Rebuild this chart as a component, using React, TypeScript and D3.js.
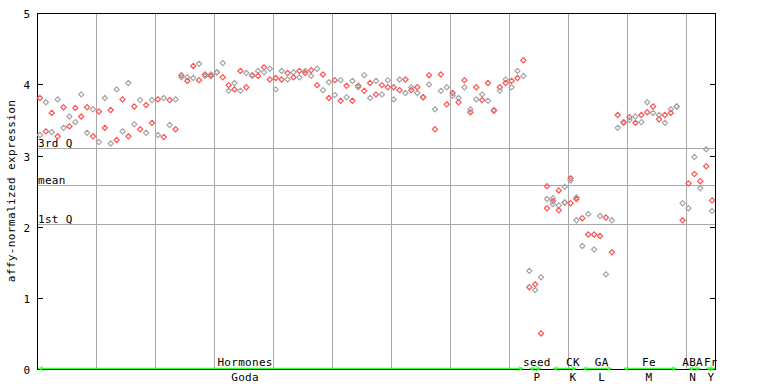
import React from "react";
import * as d3 from "d3";

// ---- data ----
const sampleCount = 115;
// each entry: [sampleIndex, value]
const columnValues: number[][] = [
  [3.81, 3.29], [3.75, 3.34], [3.60, 3.33], [3.79, 3.27], [3.68, 3.39],
  [3.55, 3.41], [3.67, 3.47], [3.86, 3.55], [3.68, 3.32], [3.65, 3.27],
  [3.62, 3.19], [3.81, 3.39], [3.64, 3.17], [3.93, 3.22], [3.79, 3.34],
  [4.02, 3.27], [3.69, 3.44], [3.78, 3.37], [3.71, 3.32], [3.78, 3.46],
  [3.79, 3.29], [3.81, 3.26], [3.78, 3.43], [3.79, 3.37], [4.13, 4.10],
  [4.10, 4.05], [4.26, 4.09], [4.29, 4.06], [4.14, 4.12], [4.14, 4.12],
  [4.17, 4.17], [4.30, 4.10], [3.99, 3.91], [4.02, 3.93], [4.19, 3.91],
  [4.16, 3.96], [4.13, 4.12], [4.19, 4.12], [4.24, 4.17], [4.22, 4.07],
  [4.09, 3.93], [4.19, 4.07], [4.16, 4.07], [4.17, 4.10], [4.19, 4.10],
  [4.19, 4.16], [4.20, 4.12], [4.22, 3.99], [4.14, 3.92], [4.03, 3.81],
  [4.06, 3.85], [4.06, 3.77], [3.98, 3.82], [4.05, 3.77], [3.98, 3.96],
  [4.13, 3.91], [4.02, 3.81], [4.05, 3.86], [3.99, 3.86], [4.06, 3.96],
  [3.96, 3.79], [4.07, 3.92], [4.07, 3.88], [3.96, 3.92], [3.96, 3.88],
  [3.82, 3.82], [4.13, 4.00], [3.65, 3.37], [4.14, 3.91], [3.96, 3.72],
  [3.88, 3.84], [3.81, 3.75], [4.06, 3.96], [3.65, 3.61], [3.96, 3.79],
  [3.86, 3.78], [4.02, 3.77], [3.64, 3.63], [3.96, 3.91], [4.07, 4.02],
  [4.05, 3.96], [4.19, 4.09], [4.34, 4.12],
  // seed
  [1.38, 1.15], [1.19, 1.11], [1.29, 0.50],
  // CK
  [2.57, 2.39, 2.26], [2.40, 2.36, 2.32], [2.51, 2.30, 2.23], [2.56, 2.34, 2.34],
  [2.68, 2.65, 2.33], [2.41, 2.39, 2.09],
  // GA
  [2.12, 1.73], [2.18, 1.89], [1.89, 1.68], [2.15, 1.87], [2.13, 1.33], [2.09, 1.64],
  // Fe
  [3.57, 3.39], [3.46, 3.47], [3.54, 3.50], [3.55, 3.46], [3.57, 3.47],
  [3.75, 3.61], [3.69, 3.60], [3.57, 3.51], [3.57, 3.46], [3.65, 3.60], [3.69, 3.69],
  // ABA
  [2.33, 2.09], [2.61, 2.26], [2.98, 2.74], [2.64, 2.54],
  // Fr
  [3.09, 2.85], [2.37, 2.22],
];

const groupTop = ["Hormones", "seed", "CK", "GA", "Fe", "ABA", "Fr"];
const groupBottom = ["Goda", "P", "K", "L", "M", "N", "Y"];
const groupStart = [0, 83, 87, 92, 99, 110, 113];
const groupEnd = [82, 85, 91, 97, 108, 112, 114];
const groupLabelAt = [34.8, 84.3, 90.4, 95.3, 103.3, 110.7, 113.8];

const yTicks = [0, 1, 2, 3, 4, 5];
const quartileNames = ["3rd Q", "mean", "1st Q"];
const quartileValues = [3.10, 2.585, 2.04];

const RED = "#ff5252";
const GREY = "#a6a6a6";
const GREEN = "#3cff3c";
const FONT = "'DejaVu Sans Mono', monospace";

export default function App() {
  const left = 37, right = 715, top = 13.3, bottom = 369;
  const x = d3.scaleLinear().domain([0, sampleCount]).range([left, right]);
  const y = d3.scaleLinear().domain([0, 5]).range([bottom, top]);
  const cx = (i: number) => x(i + 0.5);

  const points: { i: number; v: number; c: string }[] = [];
  columnValues.forEach((vals, i) => {
    vals.forEach((v, k) => {
      const c = (i + k) % 2 === 0 ? RED : GREY;
      points.push({ i, v, c });
    });
  });

  const gridX: number[] = [];
  for (let s = 10; s < sampleCount; s += 10) gridX.push(Math.round(x(s)) + 0.5);

  const diamond = (px: number, py: number) =>
    `M${px},${py - 2.6}L${px + 2.6},${py}L${px},${py + 2.6}L${px - 2.6},${py}Z`;

  const axisY = Math.round(bottom) + 0.5;
  const greenY = axisY - 1;

  return (
    <svg
      width={768}
      height={384}
      style={{ position: "absolute", left: 0, top: 0, background: "#fff" }}
      fontFamily={FONT}
      fontSize={11}
    >
      {/* vertical grid */}
      {gridX.map((gx, k) => (
        <line key={"gx" + k} x1={gx} x2={gx} y1={top} y2={bottom} stroke="#a8a8a8" strokeWidth={1} />
      ))}
      {/* quartile lines */}
      {quartileValues.map((q, k) => {
        const yy = Math.round(y(q)) + 0.5;
        return (
          <g key={"q" + k}>
            <line x1={left} x2={right} y1={yy} y2={yy} stroke="#a8a8a8" strokeWidth={1} />
            <text x={left + 1} y={yy - 2} fill="#000" letterSpacing={0.3}>
              {quartileNames[k]}
            </text>
          </g>
        );
      })}
      {/* frame */}
      <line x1={left + 0.5} x2={left + 0.5} y1={top} y2={axisY} stroke="#000" />
      <line x1={left} x2={right + 1} y1={Math.round(top) + 0.5} y2={Math.round(top) + 0.5} stroke="#000" />
      <line x1={right + 0.5} x2={right + 0.5} y1={top} y2={axisY} stroke="#000" />
      <line x1={left} x2={right + 1} y1={axisY} y2={axisY} stroke="#000" />
      {/* ticks */}
      {yTicks.map((t) => {
        const yy = Math.round(y(t)) + 0.5;
        return (
          <g key={"t" + t}>
            <line x1={left} x2={left + 6} y1={yy} y2={yy} stroke="#000" />
            <line x1={right - 5} x2={right} y1={yy} y2={yy} stroke="#000" />
            <text x={30} y={yy + 4} textAnchor="end" fill="#000">
              {t}
            </text>
          </g>
        );
      })}
      {/* y title */}
      <text
        transform={`translate(15,191) rotate(-90)`}
        textAnchor="middle"
        fill="#000"
        letterSpacing={0.4}
      >
        affy-normalized expression
      </text>
      {/* group arrows and labels */}
      {groupTop.map((name, g) => {
        const x1 = g === 0 ? left + 1 : cx(groupStart[g]);
        const x2 = g === groupTop.length - 1 ? right : cx(groupEnd[g]);
        const lx = cx(groupLabelAt[g]);
        return (
          <g key={"g" + g}>
            <line x1={x1} x2={x2} y1={greenY} y2={greenY} stroke={GREEN} strokeWidth={1.5} />
            <path
              d={`M${x1 + 5},${greenY - 2}L${x1 + 1},${greenY}L${x1 + 5},${greenY + 2}`}
              fill="none"
              stroke={GREEN}
              strokeWidth={1}
            />
            <path
              d={`M${x2 - 5},${greenY - 2}L${x2 - 1},${greenY}L${x2 - 5},${greenY + 2}`}
              fill="none"
              stroke={GREEN}
              strokeWidth={1}
            />
            <text x={lx} y={366} textAnchor="middle" fill="#000" letterSpacing={0.3}>
              {name}
            </text>
            <text x={lx} y={381} textAnchor="middle" fill="#000" letterSpacing={0.3}>
              {groupBottom[g]}
            </text>
          </g>
        );
      })}
      {/* points */}
      {points.map((p, k) => (
        <path key={"p" + k} d={diamond(cx(p.i), y(p.v))} fill="none" stroke={p.c} strokeWidth={1.2} />
      ))}
    </svg>
  );
}
